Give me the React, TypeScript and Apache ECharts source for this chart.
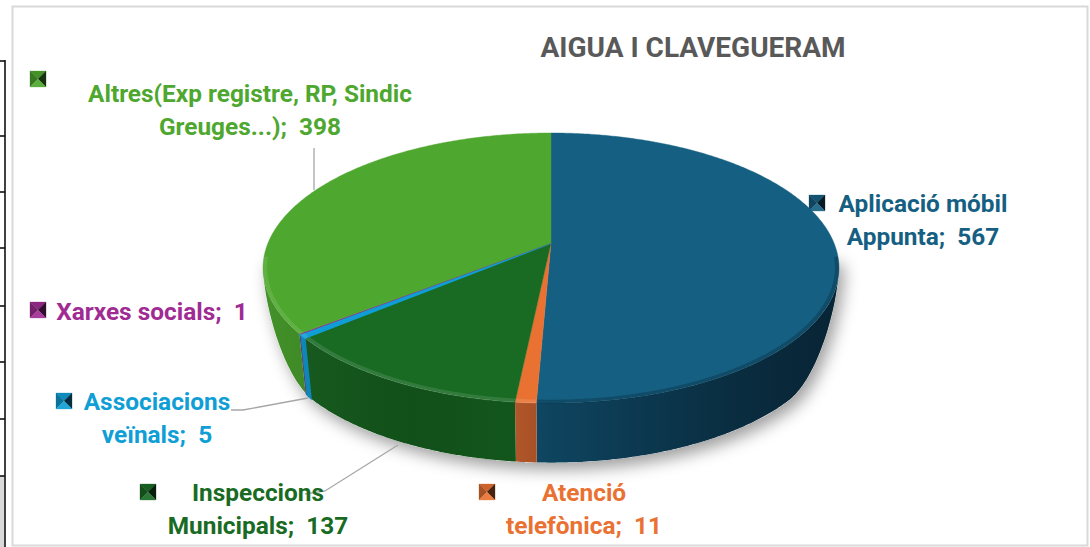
import React, { useEffect, useRef } from "react";
import * as echarts from "echarts";

const chartTitle = "AIGUA I CLAVEGUERAM";
const categories = [
  "Aplicació móbil Appunta",
  "Atenció telefònica",
  "Inspeccions Municipals",
  "Associacions veïnals",
  "Xarxes socials",
  "Altres(Exp registre, RP, Sindic Greuges...)",
];
const values = [567, 11, 137, 5, 1, 398];
const colors = ["#156082", "#E97132", "#196B24", "#0F9ED5", "#A02B93", "#4EA72E"];
const labelLines = [
  ["Aplicació móbil", "Appunta;  567"],
  ["Atenció", "telefònica;  11"],
  ["Inspeccions", "Municipals;  137"],
  ["Associacions", "veïnals;  5"],
  ["Xarxes socials;  1"],
  ["Altres(Exp registre, RP, Sindic", "Greuges...);  398"],
];
const labelCenters = [[923, 203], [584, 492], [258, 492], [157, 401], [152, 311], [250, 93]];
const markerCorners = [[809, 195], [479, 484], [140, 484], [56, 393], [30, 302], [30, 71]];
const wallStops = [
  [[0, "#0f4661"], [0.3, "#0c3a52"], [0.65, "#0a2d40"], [1, "#082435"]],
  [[0, "#b0562a"], [1, "#a85026"]],
  [[0, "#17591f"], [0.5, "#115019"], [1, "#13561c"]],
  [[0, "#0f86b8"], [1, "#0f86b8"]],
  [[0, "#7d2273"], [1, "#7d2273"]],
  [[0, "#44922a"], [1, "#3e8a27"]],
];

const total = values.reduce((a, b) => a + b, 0);
const spans = values.map((_, i) => {
  const before = values.slice(0, i).reduce((a, b) => a + b, 0);
  return [(before / total) * 360, ((before + values[i]) / total) * 360];
});

// projective mapping of the disc onto the tilted top face
const CX = 551, CY = 243, K = 0.1852, RX = 283, RY = 130.4;
const project = (deg: number, r = 1, sx = 1, sy = 1, dy = 0) => {
  const a = (deg * Math.PI) / 180;
  const u = r * Math.sin(a), v = -r * Math.cos(a);
  const w = 1 - K * v;
  return [CX + (sx * RX * u) / w, CY + dy + (sy * RY * v) / w];
};
const arcPts = (a0: number, a1: number, r = 1) => {
  const n = Math.max(2, Math.ceil(Math.abs(a1 - a0) * 2));
  const pts: number[][] = [];
  for (let i = 0; i <= n; i++) pts.push(project(a0 + ((a1 - a0) * i) / n, r));
  return pts;
};
const WALL_START = 96, WALL_END = 264, WALL_BLEND = 35;
// the lower edge of the wall fades into the rim at the two silhouette points
const bottomPoint = (deg: number) => {
  const d = Math.min(deg - WALL_START, WALL_END - deg);
  const s = Math.max(0, Math.min(1, d / WALL_BLEND));
  const t = s * s * (3 - 2 * s);
  return project(deg, 1, 1 - 0.025 * t, 1 - 0.015 * t, 62 * t);
};
const bottomArc = (a0: number, a1: number) => {
  const n = Math.max(2, Math.ceil(Math.abs(a1 - a0) * 2));
  const pts: number[][] = [];
  for (let i = 0; i <= n; i++) pts.push(bottomPoint(a0 + ((a1 - a0) * i) / n));
  return pts;
};

const renderWall = (params: any) => {
  const i = params.dataIndex;
  const a0 = Math.max(spans[i][0], WALL_START), a1 = Math.min(spans[i][1], WALL_END);
  if (a1 <= a0) return { type: "group", children: [] };
  const pts = [...arcPts(a0, a1), ...bottomArc(a1, a0)];
  return {
    type: "polygon",
    shape: { points: pts },
    style: {
      fill: new echarts.graphic.LinearGradient(0, 0, 1, 0,
        wallStops[i].map(([offset, color]) => ({ offset: offset as number, color: color as string }))),
      stroke: i === 3 ? "#0f86b8" : null,
      lineWidth: i === 3 ? 1.5 : 0,
    },
  };
};

const renderTop = (params: any) => {
  const i = params.dataIndex;
  const [a0, a1] = spans[i];
  const face = [[CX, CY], ...arcPts(a0, a1)];
  const rimColor = i === 0 ? "rgba(5,30,45,0.3)" : "rgba(255,255,255,0.11)";
  const fa0 = Math.max(a0, WALL_START), fa1 = Math.min(a1, WALL_END);
  const children: any[] = [
    {
      type: "polygon",
      shape: { points: face },
      style: { fill: colors[i], stroke: colors[i], lineWidth: i === 3 ? 1.8 : 0.4 },
    },
  ];
  if (fa1 > fa0) {
    children.push({
      type: "polyline",
      shape: { points: arcPts(fa0, fa1, 0.993) },
      style: { stroke: rimColor, lineWidth: 4, fill: null },
    });
  }
  return { type: "group", children };
};

const renderShadow = () => ({
  type: "polygon",
  shape: { points: bottomArc(WALL_START, WALL_END) },
  style: { fill: "#ffffff", shadowBlur: 16, shadowColor: "rgba(0,0,0,0.38)", shadowOffsetY: 7, shadowOffsetX: 5 },
});

const shade = (hex: string, f: number) => {
  const n = parseInt(hex.slice(1), 16);
  const ch = (c: number) => Math.round(f >= 1 ? c + (255 - c) * (f - 1) : c * f);
  return `rgb(${ch((n >> 16) & 255)},${ch((n >> 8) & 255)},${ch(n & 255)})`;
};

const markerGraphic = (i: number) => {
  const [x, y] = markerCorners[i];
  const s = 16, c = colors[i];
  const mx = x + s / 2, my = y + s / 2;
  const tri = (p: number[][], fill: string) => ({
    type: "polygon", shape: { points: p }, style: { fill, stroke: fill, lineWidth: 0.3 },
  });
  return {
    type: "group",
    children: [
      tri([[x, y], [x + s, y], [mx, my]], shade(c, 0.88)),
      tri([[x, y], [x, y + s], [mx, my]], shade(c, 0.72)),
      tri([[x + s, y], [x + s, y + s], [mx, my]], shade(c, 0.3)),
      tri([[x, y + s], [x + s, y + s], [mx, my]], shade(c, 1.08)),
    ],
  };
};

const labelGraphics = labelLines.flatMap((lines, i) =>
  lines.map((line, j) => ({
    type: "text",
    x: labelCenters[i][0],
    y: labelCenters[i][1] + j * 33,
    style: {
      text: line,
      fill: colors[i],
      font: "bold 24.4px Roboto",
      align: "center",
      verticalAlign: "middle",
    },
  })),
);

const leader = (points: number[][]) => ({
  type: "polyline",
  shape: { points },
  style: { stroke: "#a6a6a6", lineWidth: 1.3, fill: null },
});
const tableRowLines = [61, 136, 192, 248, 306, 362, 419, 476];

export default function App() {
  const ref = useRef<HTMLDivElement>(null);
  useEffect(() => {
    const chart = echarts.init(ref.current!, undefined, { renderer: "svg" });
    const data = values.map((value, i) => ({ name: categories[i], value }));
    chart.setOption({
      animation: false,
      backgroundColor: "#ffffff",
      title: {
        text: chartTitle,
        left: 688,
        top: 28,
        textAlign: "center",
        textStyle: { fontFamily: "Roboto", fontWeight: "bold", fontSize: 28, color: "#595959" },
      },
      series: [
        { type: "custom", coordinateSystem: "none", renderItem: renderShadow, data: [total], z: 1, silent: true },
        { type: "custom", coordinateSystem: "none", renderItem: renderWall, data, z: 2, silent: true },
        { type: "custom", coordinateSystem: "none", renderItem: renderTop, data, z: 3, silent: true },
      ],
      graphic: [
        { type: "rect", shape: { x: 0, y: 476, width: 4, height: 71 }, style: { fill: "#d9d9d9" }, z: 0 },
        { type: "rect", shape: { x: 12.5, y: 6.5, width: 1075, height: 539 }, style: { fill: null, stroke: "#d9d9d9", lineWidth: 2 }, z: 5 },
        { type: "line", shape: { x1: 5, y1: 60, x2: 5, y2: 547 }, style: { stroke: "#111111", lineWidth: 1.6 }, z: 5 },
        ...tableRowLines.map((y) => ({
          type: "line", shape: { x1: 0, y1: y, x2: 5, y2: y }, style: { stroke: "#111111", lineWidth: 1.6 }, z: 5,
        })),
        { ...leader([[314, 148], [314, 190]]), z: 5 },
        { ...leader([[231, 410], [243, 410], [308, 398]]), z: 5 },
        { ...leader([[305, 494], [325, 491], [398, 445]]), z: 5 },
        ...values.map((_, i) => ({ ...markerGraphic(i), z: 6 })),
        ...labelGraphics.map((g) => ({ ...g, z: 6 })),
      ],
    });
    return () => chart.dispose();
  }, []);
  return <div ref={ref} style={{ position: "fixed", left: 0, top: 0, width: 1090, height: 547 }} />;
}
